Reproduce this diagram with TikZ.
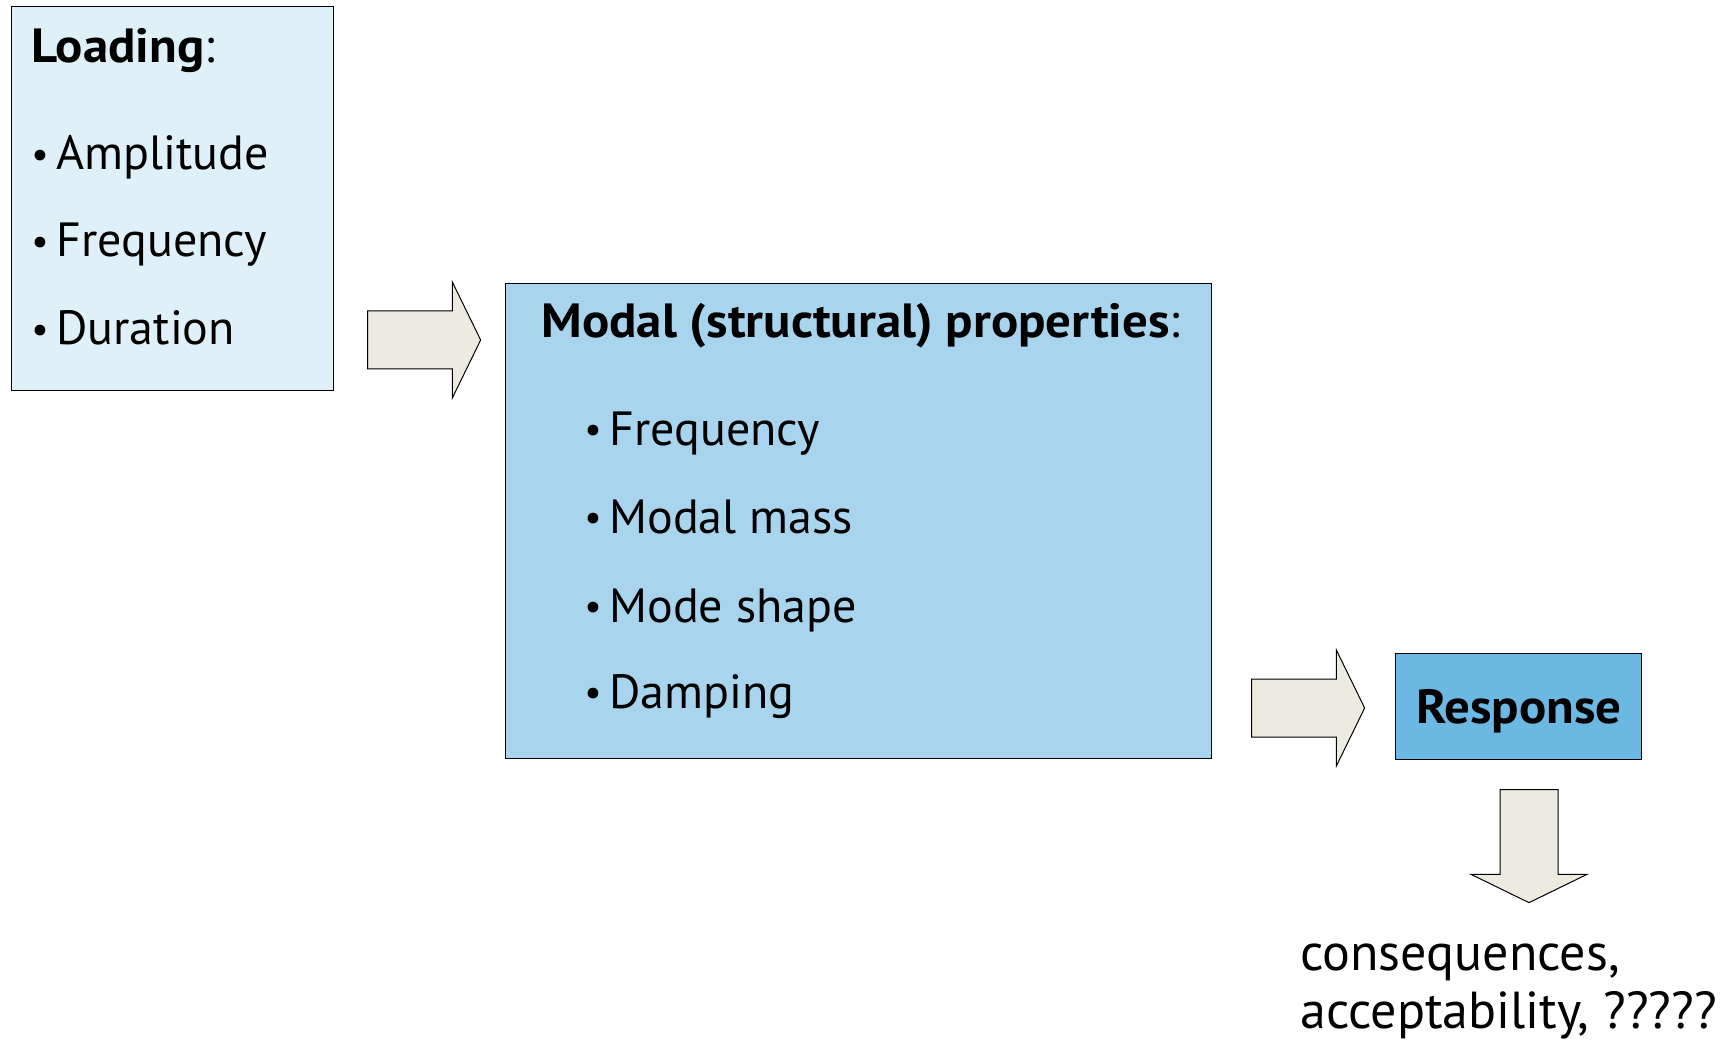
\documentclass[tikz,border=0pt]{standalone}
\usepackage{fontspec}
\setmainfont{PT Sans}[BoldFeatures={FakeStretch=1.06}]
\usetikzlibrary{shapes.arrows}

\definecolor{loadblue}{RGB}{223,240,248}
\definecolor{modalblue}{RGB}{168,212,238}
\definecolor{respblue}{RGB}{107,184,227}
\definecolor{arrowfill}{RGB}{237,235,224}

% small bullet with a fixed gap before the item text
\newcommand{\bul}{\makebox[12.5pt][l]{\raisebox{1.2pt}{\scalebox{0.8}{•}}}}

\tikzset{
  box/.style={draw, line width=0.7pt, anchor=north west, inner sep=0pt},
  blockarrow/.style={single arrow, draw, fill=arrowfill, line width=0.5pt, anchor=tail,
    inner xsep=24.5pt, inner ysep=14.25pt, single arrow head extend=14.5pt,
    single arrow tip angle=128},
  % inner seps swap when the arrow is turned downwards
  downarrow/.style={blockarrow, shape border rotate=270, inner xsep=14.25pt, inner ysep=24.5pt},
  label/.style={anchor=base west, inner sep=0pt, font=\fontsize{24}{29}\selectfont},
}

\begin{document}
\begin{tikzpicture}[x=0.5pt, y=-0.5pt]
\useasboundingbox (0,0) rectangle (1731,1048);

% loading box
\node[box, fill=loadblue, minimum width=161pt, minimum height=192pt] (loading) at (11,6) {};
\node[label] (loadTitle) at (31,63) {\textbf{Loading}:};
\node[label] (loadAmp) at (31,170) {\bul Amplitude};
\node[label] (loadFreq) at (31,257) {\bul Frequency};
\node[label] (loadDur) at (31,345) {\bul Duration};

% structure box
\node[box, fill=modalblue, minimum width=353pt, minimum height=237.5pt] (modal) at (505,283) {};
\node[label] (modalTitle) at (541,338) {\textbf{Modal (structural) properties}:};
\node[label] (modalFreq) at (584,445) {\bul Frequency};
\node[label] (modalMass) at (584,533) {\bul Modal mass};
\node[label] (modalShape) at (584,622) {\bul Mode shape};
\node[label] (modalDamp) at (584,708) {\bul Damping};

% response box
\node[box, fill=respblue, minimum width=123pt, minimum height=53pt] (response) at (1395,653) {};
\node[label, anchor=base] (respText) at (response.center |- 0,723) {\textbf{Response}};

% outcome text
\node[label, align=left, font=\fontsize{26}{29}\selectfont] (outcome) at (1300,1028)
  {consequences,\\acceptability, ?????};

% block arrows
\node[blockarrow] (arrLoad) at (367,340) {};
\node[blockarrow] (arrModal) at (1251,708) {};
\node[downarrow] (arrResp) at (1529,789) {};
\end{tikzpicture}
\end{document}
